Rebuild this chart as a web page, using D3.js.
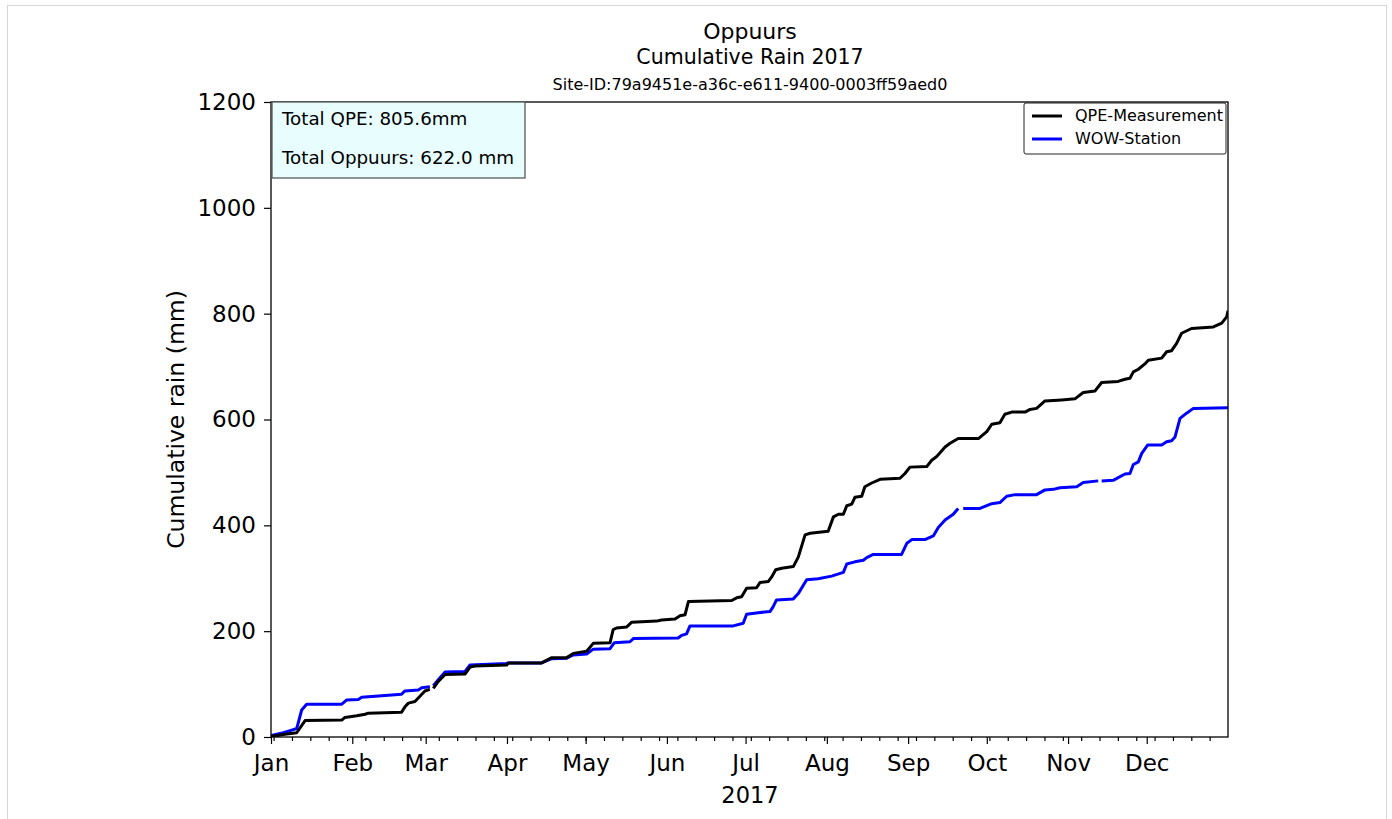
<!DOCTYPE html>
<html>
<head>
<meta charset="UTF-8">
<title>Oppuurs cumulative rain 2017</title>
<style>
  body{margin:0;background:#fff;font-family:'DejaVu Sans',sans-serif}
  svg text{fill:#000}
</style>
</head>
<body>
<svg id="chart" width="1392" height="819"></svg>
<script src="https://d3js.org/d3.v7.min.js"></script>
<script>
// cumulative series as [day since Jan 1, mm]; null = missing data
const qpe = [
  [0,1],[5.3,5],[9.8,8],[13.0,31],[27.0,32],[28.2,37],[32.7,40],[35.9,43],[37.1,45],
  [49.8,47],[51.1,57],[52.4,64],[54.9,67],[56.8,77],[58.7,87],[60.6,90],null,
  [61.9,92],[63.8,105],[66.4,118],[74.0,119],[75.9,132],[77.8,134],[89.9,136],[90.5,140],
  [103.2,140],[107.1,150],[112.8,150],[115.3,158],[120.4,162],[122.9,177],[129.3,178],
  [130.5,203],[131.8,206],[135.7,208],[137.6,217],[147.1,219],[149.0,221],[154.1,223],
  [156.0,229],[157.9,231],[159.2,256],[175.7,258],[177.6,263],[179.5,265],[181.4,281],
  [185.2,282],[186.5,292],[189.7,294],[190.9,302],[192.5,316],[194.8,319],[199.2,322],
  [201.1,340],[203.7,382],[205.6,385],[212.5,389],[214.5,416],[216.4,421],[218.3,421],
  [219.6,437],[221.5,440],[222.7,453],[225.3,455],[226.5,473],[229.1,480],[232.3,487],
  [239.9,489],[241.8,498],[243.7,510],[250.1,511],[252.0,523],[253.9,530],[257.1,548],
  [259.0,555],[262.1,564],[269.8,564],[273.0,577],[274.9,591],[278.0,594],[279.9,610],
  [282.5,614],[287.6,614],[289.5,619],[292.0,621],[295.2,635],[301.6,637],[306.6,639],
  [309.8,651],[314.3,654],[316.8,670],[323.1,672],[325.7,676],[327.6,678],[328.9,690],
  [330.8,695],[333.3,705],[334.6,712],[339.7,716],[341.6,728],[343.5,730],[345.4,744],
  [347.3,763],[351.1,772],[359.4,775],[362.6,782],[364.5,794],[365,805.6]
];
const wow = [
  [0,3],[4.7,8],[7.9,13],[9.8,16],[11.7,51],[13.6,62],[27.0,62],[28.9,70],[33.3,71],
  [34.6,75],[39.7,77],[49.8,81],[51.1,87],[56.2,89],[57.5,93],[60.6,95],null,
  [61.9,97],[63.8,108],[66.4,123],[74.0,124],[75.9,136],[89.9,139],[90.5,140],[103.2,140],
  [107.1,148],[112.8,149],[115.3,155],[120.4,157],[122.9,166],[129.3,167],[130.9,178],
  [136.9,180],[138.2,186],[155.3,187],[156.6,192],[158.5,195],[159.8,210],[176.3,210],
  [180.1,215],[181.4,232],[185.8,235],[190.3,237],[191.5,246],[192.8,259],[199.2,261],
  [201.1,271],[204.3,297],[208.7,299],[213.8,304],[218.3,311],[219.6,327],[222.7,331],
  [225.9,334],[227.2,339],[229.7,345],[240.5,345],[242.5,366],[244.4,373],[249.4,373],
  [252.6,380],[254.5,396],[257.1,410],[260.2,421],[262.1,432],null,
  [264.0,432],[270.4,432],[274.9,441],[278.0,443],[280.6,455],[283.8,458],[292.0,458],
  [295.2,467],[298.4,468],[300.9,471],[307.3,473],[309.8,481],[315.5,484],null,
  [316.8,484],[321.2,485],[325.7,497],[327.6,498],[328.9,515],[330.8,520],[332.1,536],
  [334.4,552],[339.7,552],[341.6,558],[343.5,560],[344.8,567],[346.7,602],[349.2,612],
  [351.8,621],[365,622]
];
const seriesNames = ["QPE-Measurement", "WOW-Station"];
const seriesColors = ["#000000", "#0000ff"];
const yTicks = [0, 200, 400, 600, 800, 1000, 1200];
const infoLines = ["Total QPE: 805.6mm", "Total Oppuurs: 622.0 mm"];
const titles = ["Oppuurs", "Cumulative Rain 2017", "Site-ID:79a9451e-a36c-e611-9400-0003ff59aed0"];

const start = new Date(2017, 0, 1), end = new Date(2018, 0, 1);
const toDate = d => new Date(start.getTime() + d * 864e5);

const svg = d3.select("#chart");
const m = {left: 271, right: 1228, top: 102, bottom: 737};

// light figure border
svg.append("rect").attr("x", 7.5).attr("y", 5.5).attr("width", 1379).attr("height", 830)
   .attr("fill", "none").attr("stroke", "#d6d6d6").attr("stroke-width", 1);

const x = d3.scaleTime().domain([start, end]).range([m.left, m.right]);
const y = d3.scaleLinear().domain([0, 1200]).range([m.bottom, m.top]);

// titles
svg.append("text").attr("x", 750).attr("y", 39).attr("text-anchor", "middle")
   .style("font-size", "22px").text(titles[0]);
svg.append("text").attr("x", 750).attr("y", 64).attr("text-anchor", "middle")
   .style("font-size", "20.5px").text(titles[1]);
svg.append("text").attr("x", 750).attr("y", 90).attr("text-anchor", "middle")
   .style("font-size", "16px").text(titles[2]);

// lines (station first, QPE drawn on top)
const line = d3.line().defined(d => d !== null)
   .x(d => x(toDate(d[0]))).y(d => y(d[1]));
svg.append("clipPath").attr("id", "clip").append("rect")
   .attr("x", m.left).attr("y", m.top).attr("width", m.right - m.left).attr("height", m.bottom - m.top);
const plot = svg.append("g").attr("clip-path", "url(#clip)");
plot.append("path").datum(wow).attr("d", line).attr("fill", "none")
   .attr("stroke", seriesColors[1]).attr("stroke-width", 3).attr("stroke-linejoin", "round");
plot.append("path").datum(qpe).attr("d", line).attr("fill", "none")
   .attr("stroke", seriesColors[0]).attr("stroke-width", 3).attr("stroke-linejoin", "round");

// axes
const yAxis = svg.append("g").attr("transform", `translate(${m.left},0)`)
   .call(d3.axisLeft(y).tickValues(yTicks).tickSize(7).tickPadding(8).tickFormat(d3.format("d")));
const xAxis = svg.append("g").attr("transform", `translate(0,${m.bottom})`)
   .call(d3.axisBottom(x).tickValues(d3.timeMonths(start, end)).tickSize(7).tickPadding(11)
   .tickFormat(d3.timeFormat("%b")));
svg.append("g").attr("transform", `translate(0,${m.bottom})`)
   .call(d3.axisBottom(x).tickValues(d3.timeMondays(start, end)).tickSize(4).tickFormat(""))
   .call(g => g.select(".domain").remove());
[yAxis, xAxis].forEach(g => {
  g.select(".domain").remove();
  g.selectAll("text").style("font-size", "23px").style("font-family", "'DejaVu Sans',sans-serif");
});
svg.selectAll(".tick line").attr("stroke", "#000").attr("stroke-width", 1.2);

// frame
svg.append("rect").attr("x", m.left).attr("y", m.top)
   .attr("width", m.right - m.left).attr("height", m.bottom - m.top)
   .attr("fill", "none").attr("stroke", "#000").attr("stroke-width", 1.3);

// axis labels
svg.append("text").attr("transform", `translate(184,${(m.top + m.bottom) / 2}) rotate(-90)`)
   .attr("text-anchor", "middle").style("font-size", "23.5px").text("Cumulative rain (mm)");
svg.append("text").attr("x", 750).attr("y", 803).attr("text-anchor", "middle")
   .style("font-size", "22.5px").text("2017");

// info box
svg.append("rect").attr("x", 272).attr("y", 102).attr("width", 253).attr("height", 76)
   .attr("fill", "#e8fdfd").attr("stroke", "#5a5a5a").attr("stroke-width", 1.3);
infoLines.forEach((t, i) => svg.append("text").attr("x", 282).attr("y", 125 + i * 39)
   .style("font-size", "18.3px").text(t));

// legend
const lg = svg.append("g");
lg.append("rect").attr("x", 1024).attr("y", 103).attr("width", 202).attr("height", 51).attr("rx", 2)
   .attr("fill", "#fff").attr("stroke", "#222").attr("stroke-width", 1);
seriesNames.forEach((n, i) => {
  lg.append("line").attr("x1", 1032).attr("x2", 1062).attr("y1", 116 + i * 23).attr("y2", 116 + i * 23)
    .attr("stroke", seriesColors[i]).attr("stroke-width", 3);
  lg.append("text").attr("x", 1075).attr("y", 121 + i * 23).style("font-size", "16px").text(n);
});
</script>
</body>
</html>
